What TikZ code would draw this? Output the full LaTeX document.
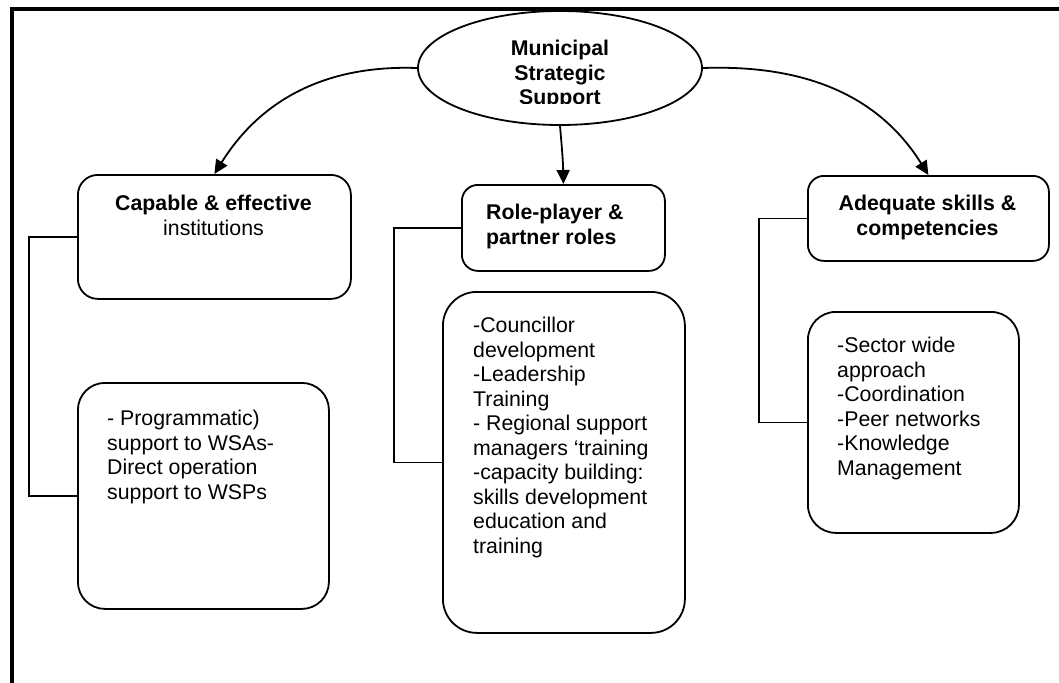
\documentclass[tikz,border=0pt]{standalone}
\usepackage{fontspec}
\setmainfont{Liberation Sans}
\usetikzlibrary{shapes.geometric,arrows.meta}
\tikzset{
  box/.style={draw, line width=1.8pt, rounded corners=#1, inner sep=0pt, anchor=north west},
  txt/.style={inner sep=0pt, font=\fontsize{21.3}{24.5}\selectfont},
  link/.style={line width=1.8pt},
  arr/.style={line width=1.8pt, -{Triangle[length=14pt,width=13pt]}},
}
\begin{document}
\begin{tikzpicture}[x=1pt,y=1pt]
\useasboundingbox (0,0) rectangle (1059,-682);
\clip (0,0) rectangle (1059,-682);
\fill[white] (0,0) rectangle (1059,-682);
% outer frame
\draw[line width=4pt] (12,-9) rectangle (1080,-700);
% central ellipse
\node[draw, ellipse, line width=1.8pt, minimum width=284pt, minimum height=114pt, inner sep=0pt] (ell) at (560,-68) {};
\begin{scope}
\clip (400,-20) rectangle (720,-103.5);
\node[txt, anchor=north, align=center, font=\fontsize{21.3}{24.5}\selectfont\bfseries] (elltxt) at (560,-40) {Municipal\\Strategic\\Support};
\end{scope}
% upper boxes
\node[box=20pt, minimum width=273pt, minimum height=124pt] (b1) at (77,-174) {};
\node[box=16pt, minimum width=203pt, minimum height=86pt] (b2) at (461,-184) {};
\node[box=16pt, minimum width=241pt, minimum height=85pt] (b3) at (807,-175) {};
% lower boxes
\node[box=27pt, minimum width=251pt, minimum height=226pt] (b4) at (77,-382) {};
\node[box=34pt, minimum width=242pt, minimum height=341pt] (b5) at (442,-291) {};
\node[box=28pt, minimum width=211pt, minimum height=221pt] (b6) at (807,-311) {};
% texts
\node[txt, anchor=north, align=center] (t1) at (213.5,-195) {\textbf{Capable \& effective}\\institutions};
\node[txt, anchor=north west, align=left, font=\fontsize{21.3}{24.5}\selectfont\bfseries] (t2) at (486,-204) {Role-player \&\\partner roles};
\node[txt, anchor=north, align=center, font=\fontsize{21.3}{24.5}\selectfont\bfseries] (t3) at (927.5,-195) {Adequate skills \&\\competencies};
\node[txt, anchor=north west, align=left] (t4) at (107,-410) {- Programmatic)\\support to WSAs-\\Direct operation\\support to WSPs};
\node[txt, anchor=north west, align=left] (t5) at (473,-317) {-Councillor\\development\\-Leadership\\Training\\- Regional support\\managers ‘training\\-capacity building:\\skills development\\education and\\training};
\node[txt, anchor=north west, align=left] (t6) at (837,-337) {-Sector wide\\approach\\-Coordination\\-Peer networks\\-Knowledge\\Management};
% arrows from ellipse
\draw[arr] (ell.west) to[out=178, in=58] (b1.north);
\draw[arr] (ell.south) to[out=-85, in=91] (b2.north);
\draw[arr] (ell.east) to[out=2, in=122] (b3.north);
% elbow connectors
\draw[link] (b1.west) -- ++(-48,0) |- (b4.west);
\draw[link] (b2.west) -- ++(-67,0) |- (b5.west);
\draw[link] (b3.west) -- ++(-48,0) |- (b6.west);
\end{tikzpicture}
\end{document}
